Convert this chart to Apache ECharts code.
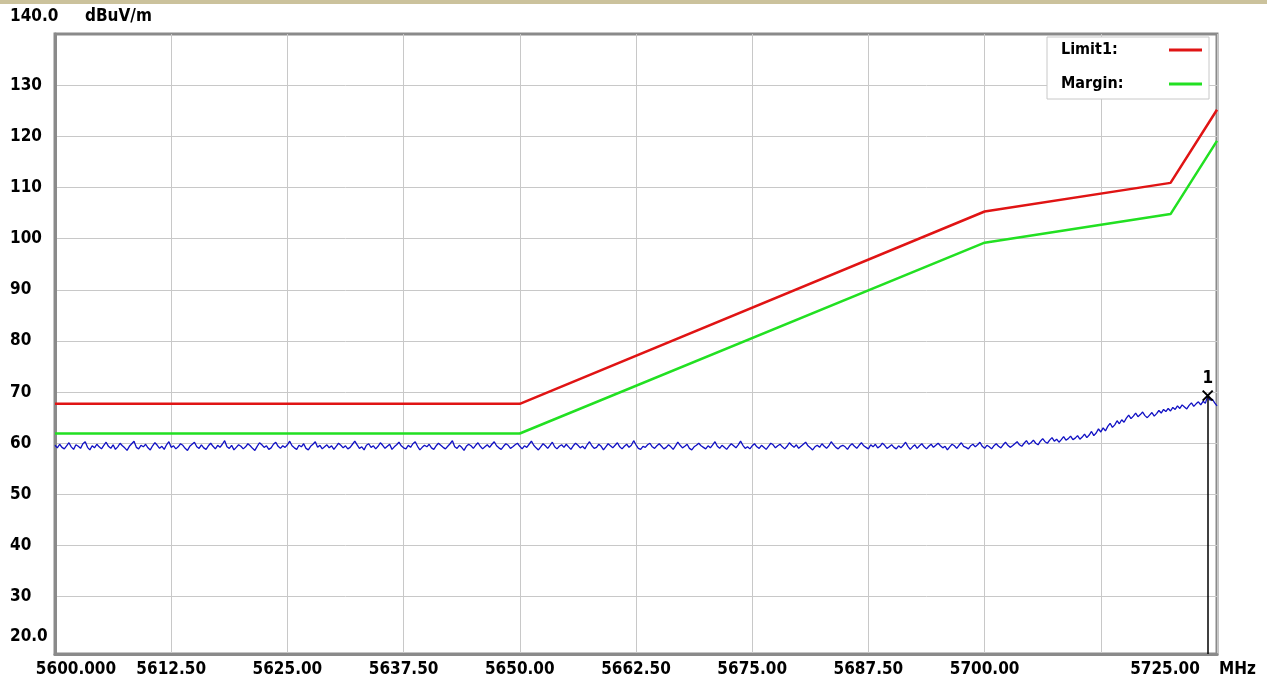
<!DOCTYPE html>
<html>
<head>
<meta charset="utf-8">
<script src="https://cdn.jsdelivr.net/npm/echarts@6/dist/echarts.min.js"></script>
<style>
  html, body { margin: 0; padding: 0; background: #ffffff; }
  #chart { position: absolute; left: 0; top: 0; width: 1267px; height: 681px; }
  #band { position: absolute; left: 0; top: 0; width: 1267px; height: 4px; background: #cbc29c; z-index: 5; }
</style>
</head>
<body>
<div id="chart"></div>
<div id="band"></div>
<script>
// ---- data ----
const freqStart = 5600;
const freqStep = 0.25;
const traceLevels = [
  59.6,59.1,59.8,59.2,58.9,59.5,60.1,59.3,58.8,59.7,59.4,59.0,59.9,60.3,59.2,58.7,59.5,59.1,59.8,59.3,
  58.9,59.6,60.2,59.4,59.0,59.7,58.8,59.3,60.0,59.5,59.1,58.6,59.4,59.9,60.4,59.2,58.9,59.6,59.3,59.8,
  59.1,58.7,59.5,60.1,59.6,59.0,59.4,58.8,59.7,60.3,59.2,59.5,58.9,59.3,59.9,59.6,59.0,58.6,59.4,59.8,
  60.2,59.3,59.0,59.7,59.1,58.8,59.5,60.0,59.4,58.9,59.6,59.2,59.8,60.5,59.3,59.0,59.6,58.7,59.2,59.7,
  59.4,58.9,59.3,59.9,59.5,59.0,58.6,59.4,60.1,59.7,59.2,59.5,58.8,59.1,59.8,60.2,59.4,59.0,59.5,59.2,
  59.7,60.4,59.5,59.1,58.8,59.6,59.3,59.9,59.0,58.7,59.4,59.8,60.3,59.2,59.6,58.9,59.3,59.7,59.1,59.5,
  58.8,59.4,60.0,59.6,59.1,59.5,58.9,59.2,59.8,60.4,59.7,59.0,59.3,58.7,59.6,59.9,59.2,59.5,58.9,59.4,
  60.1,59.6,59.0,59.4,59.8,58.8,59.3,59.7,60.2,59.5,59.1,58.9,59.6,59.2,59.9,60.3,59.4,58.7,59.2,59.6,
  59.3,59.8,59.1,58.8,59.5,60.0,59.6,59.2,58.9,59.4,59.9,60.5,59.3,59.0,59.6,59.2,58.6,59.4,59.8,59.5,
  59.0,59.6,60.1,59.4,58.9,59.3,59.7,59.2,59.8,60.3,59.5,59.1,58.8,59.4,59.9,59.6,59.0,59.3,59.7,60.0,
  59.4,58.9,59.5,59.2,59.8,60.4,59.6,59.1,58.7,59.3,59.9,59.5,59.0,59.6,60.2,59.3,58.9,59.4,59.7,59.2,
  59.8,59.3,58.8,59.5,60.0,59.6,59.1,59.4,58.9,59.7,60.3,59.5,59.0,59.2,59.8,59.4,58.7,59.3,59.9,59.5,
  59.1,59.6,60.1,59.3,58.9,59.4,59.8,59.2,59.6,60.5,59.7,59.0,58.8,59.4,59.2,59.7,60.0,59.3,59.0,59.5,
  59.9,59.4,58.9,59.2,59.7,59.3,58.8,59.5,60.2,59.6,59.1,59.4,59.8,59.0,58.7,59.3,59.6,60.0,59.5,59.2,
  58.9,59.5,59.1,59.7,60.3,59.4,59.0,59.6,59.2,58.8,59.4,59.9,59.5,59.1,59.7,60.4,59.6,59.0,59.3,58.9,
  59.5,59.9,59.3,59.0,59.6,59.2,58.8,59.4,60.0,59.7,59.1,59.5,59.8,59.3,58.9,59.4,60.1,59.6,59.2,59.7,
  59.0,59.4,59.8,60.2,59.5,59.1,58.7,59.3,59.6,59.2,59.9,59.4,59.0,59.5,60.3,59.7,59.2,58.9,59.4,59.6,
  59.3,58.8,59.5,59.9,59.4,59.0,59.6,60.1,59.5,59.2,58.9,59.7,59.3,59.8,59.1,59.4,60.0,59.6,59.0,59.3,
  59.7,59.2,58.9,59.5,59.1,59.6,60.2,59.4,58.8,59.3,59.7,59.0,59.5,59.9,59.3,58.9,59.4,59.8,59.2,59.6,
  60.0,59.5,59.1,59.4,58.7,59.3,59.8,59.5,59.0,59.6,60.1,59.4,59.2,58.9,59.5,59.8,59.3,59.7,60.2,59.4,
  59.0,59.6,59.3,58.9,59.5,59.9,59.4,59.1,59.7,60.2,59.6,59.2,59.5,59.9,60.3,59.7,59.4,60.0,60.5,59.8,
  60.1,60.6,60.0,59.7,60.4,60.9,60.3,60.0,60.6,61.1,60.4,60.8,60.2,60.7,61.3,60.6,60.9,61.4,60.7,61.0,
  61.5,60.8,61.2,61.8,61.1,61.6,62.3,61.5,62.0,62.8,62.2,63.0,62.4,63.3,63.9,63.1,63.6,64.4,63.8,64.6,
  64.1,64.9,65.5,64.8,65.3,65.9,65.2,65.6,66.1,65.4,65.0,65.5,66.0,65.3,65.8,66.4,65.9,66.6,66.2,66.8,
  66.3,67.0,66.6,67.3,66.8,67.5,67.1,66.7,67.4,67.9,67.2,67.7,68.1,67.5,68.2,67.8,69.3,68.4,68.6,67.9,
  67.3
];
const limitFreqs = [5600, 5650, 5700, 5720, 5725];
const limitLevels = [67.7, 67.7, 105.3, 110.9, 125.2];
const marginLevels = [61.9, 61.9, 99.2, 104.8, 119.1];
const yLabelValues = [20, 30, 40, 50, 60, 70, 80, 90, 100, 110, 120, 130, 140];
const yGridValues = [30, 40, 50, 60, 70, 80, 90, 100, 110, 120, 130];
const markerFreqs = [5724.0];
const markerLevels = [69.3];
const markerNames = ['1'];

const xMin = 5600, xMax = 5725, xInterval = 12.5;
const yMin = 18.8, yMax = 140;

const FONT = "'DejaVu Sans Condensed', 'DejaVu Sans', sans-serif";

const traceData = traceLevels.map((v, i) => [freqStart + i * freqStep, v]);
const limitData = limitFreqs.map((f, i) => [f, limitLevels[i]]);
const marginData = limitFreqs.map((f, i) => [f, marginLevels[i]]);

const chart = echarts.init(document.getElementById('chart'), null, { renderer: 'canvas' });

const baseText = { fontFamily: FONT, fontWeight: 'bold', fontSize: 17, color: '#000' };

chart.setOption({
  animation: false,
  backgroundColor: '#ffffff',
  grid: {
    left: 55, right: 50, top: 34, bottom: 27,
    show: true, borderColor: '#8a8a8a', borderWidth: 3,
    backgroundColor: 'transparent',
    outerBoundsMode: 'none',
    containLabel: false
  },
  legend: {
    orient: 'vertical',
    right: 58, top: 37,
    align: 'right',
    icon: 'path://M0,0L33,0L33,3L0,3Z',
    itemWidth: 33, itemHeight: 14, itemGap: 18,
    padding: [5, 7, 7, 14],
    backgroundColor: '#ffffff',
    borderColor: '#c8c8c8', borderWidth: 1,
    data: ['Limit1', 'Margin'],
    formatter: '{a|{name}:}',
    textStyle: Object.assign({}, baseText, {
      fontSize: 16,
      rich: { a: Object.assign({}, baseText, { fontSize: 16, width: 103, align: 'left' }) }
    })
  },
  xAxis: {
    type: 'value',
    min: xMin, max: xMax, interval: xInterval,
    name: 'MHz',
    nameLocation: 'end',
    nameGap: 2,
    nameTextStyle: Object.assign({}, baseText, { align: 'left', verticalAlign: 'top', padding: [7, 0, 0, 0] }),
    axisLine: { show: true, lineStyle: { color: '#8a8a8a', width: 3 } },
    axisTick: { show: false },
    splitLine: { show: true, lineStyle: { color: '#c8c8c8', width: 1 } },
    axisLabel: Object.assign({}, baseText, {
      margin: 7,
      hideOverlap: false,
      showMinLabel: true,
      showMaxLabel: true,
      formatter: function (v) {
        if (v === xMin) return '{l|5600.000}';
        if (v === xMax) return '{r|' + v.toFixed(2) + '}';
        if (Math.abs(v - 5712.5) < 1e-6) return '';
        return v.toFixed(2);
      },
      rich: {
        l: Object.assign({}, baseText, { padding: [0, 0, 0, 42] }),
        r: Object.assign({}, baseText, { padding: [0, 104, 0, 0] })
      }
    })
  },
  yAxis: {
    type: 'value',
    min: yMin, max: yMax,
    name: 'dBuV/m',
    nameLocation: 'end',
    nameGap: 17,
    nameTextStyle: Object.assign({}, baseText, { align: 'left', verticalAlign: 'middle', padding: [0, 0, 0, 30] }),
    axisLine: { show: true, lineStyle: { color: '#8a8a8a', width: 3 } },
    axisTick: { show: false, customValues: yGridValues },
    splitLine: { show: true, lineStyle: { color: '#c8c8c8', width: 1 } },
    axisLabel: Object.assign({}, baseText, {
      customValues: yLabelValues,
      align: 'left',
      margin: 45,
      formatter: function (v) {
        if (v === 140) return '{t|140.0}';
        if (v === 20) return '{b|20.0}';
        return String(v);
      },
      rich: {
        t: Object.assign({}, baseText, { padding: [0, 0, 34, 0] }),
        b: Object.assign({}, baseText, { padding: [0, 0, 22, 0] })
      }
    })
  },
  series: [
    {
      name: 'Trace',
      type: 'line',
      data: traceData,
      symbol: 'none',
      showSymbol: false,
      lineStyle: { color: '#1010c4', width: 1.3 },
      itemStyle: { color: '#1010c4' },
      z: 3,
      markLine: {
        silent: true,
        symbol: ['none', 'none'],
        label: { show: false },
        lineStyle: { color: '#000000', width: 1.5, type: 'solid' },
        data: markerFreqs.map((f, i) => [{ coord: [f, markerLevels[i]] }, { coord: [f, yMin] }])
      },
      markPoint: {
        silent: true,
        symbol: 'path://M0,0L10,10M10,0L0,10',
        symbolSize: [10, 10],
        itemStyle: { color: 'none', borderColor: '#000000', borderWidth: 2 },
        label: Object.assign({}, baseText, { show: true, position: 'top', distance: 1, formatter: '{b}' }),
        data: markerFreqs.map((f, i) => ({ name: markerNames[i], coord: [f, markerLevels[i]] }))
      }
    },
    {
      name: 'Limit1',
      type: 'line',
      data: limitData,
      symbol: 'none',
      showSymbol: false,
      lineStyle: { color: '#e01414', width: 2.5 },
      itemStyle: { color: '#e01414' },
      z: 4
    },
    {
      name: 'Margin',
      type: 'line',
      data: marginData,
      symbol: 'none',
      showSymbol: false,
      lineStyle: { color: '#22e022', width: 2.5 },
      itemStyle: { color: '#22e022' },
      z: 4
    }
  ]
});
</script>
</body>
</html>
